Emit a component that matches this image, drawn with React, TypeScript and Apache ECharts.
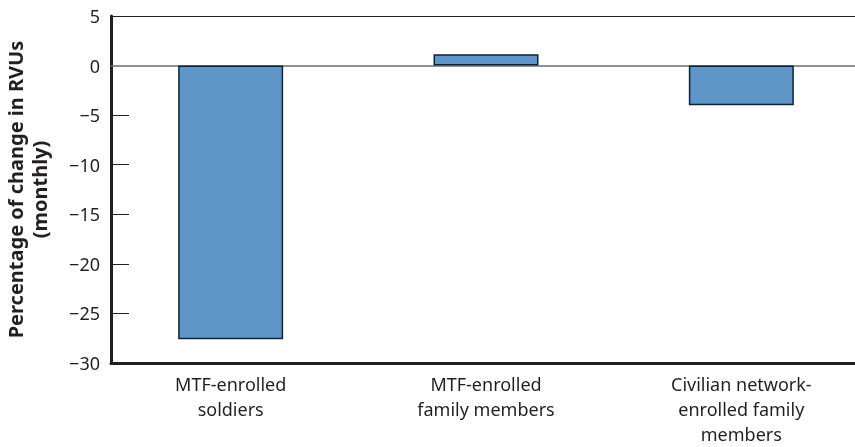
import React, { useEffect, useRef } from "react";
import * as echarts from "echarts";

const categories = [
  "MTF-enrolled\nsoldiers",
  "MTF-enrolled\nfamily members",
  "Civilian network-\nenrolled family\nmembers",
];
const values = [-27.6, 1.15, -4.0];
const yMin = -30;
const yMax = 5;
const yStep = 5;
const tickValues = [-25, -20, -15, -10, -5];

const FONT = "Noto Sans";
const INK = "#231f20";

export default function App() {
  const ref = useRef<HTMLDivElement>(null);
  useEffect(() => {
    if (!ref.current) return;
    const chart = echarts.init(ref.current, null, { renderer: "svg" });
    chart.setOption({
      animation: false,
      textStyle: { fontFamily: FONT },
      grid: [
        { left: 111, right: 0, top: 16, bottom: 84, containLabel: false, outerBoundsMode: "none" },
        { left: 103, width: 766, top: 16, bottom: 84, containLabel: false, outerBoundsMode: "none" },
      ],
      yAxis: [
        {
          gridIndex: 0,
          type: "value",
          min: yMin,
          max: yMax,
          interval: yStep,
          axisLine: { show: true, lineStyle: { color: INK, width: 3 } },
          axisTick: {
            show: true,
            inside: true,
            length: 18,
            customValues: tickValues,
            lineStyle: { color: INK, width: 1 },
          },
          axisLabel: {
            fontSize: 18,
            color: INK,
            margin: 11,
            fontFamily: FONT,
            formatter: (v: number) => String(v).replace("-", "\u2212"),
          },
          splitLine: { show: false },
          name: "Percentage of change in RVUs\n(monthly)",
          nameLocation: "middle",
          nameGap: 60,
          nameTextStyle: {
            fontSize: 20,
            fontWeight: "bold",
            color: INK,
            lineHeight: 24,
            fontFamily: FONT,
          },
        },
        {
          gridIndex: 1,
          type: "value",
          min: yMin,
          max: yMax,
          interval: yStep,
          show: false,
        },
      ],
      xAxis: [
        {
          gridIndex: 0,
          type: "value",
          min: 0,
          max: 1,
          position: "bottom",
          axisLine: { show: true, onZero: false, lineStyle: { color: INK, width: 3 } },
          axisTick: { show: false },
          axisLabel: { show: false },
          splitLine: { show: false },
        },
        {
          gridIndex: 0,
          type: "value",
          min: 0,
          max: 1,
          position: "top",
          axisLine: { show: true, onZero: false, lineStyle: { color: INK, width: 1 } },
          axisTick: { show: false },
          axisLabel: { show: false },
          splitLine: { show: false },
        },
        {
          gridIndex: 0,
          type: "value",
          min: 0,
          max: 1,
          position: "bottom",
          axisLine: { show: true, onZero: true, lineStyle: { color: "#6d6d6d", width: 1.5 } },
          axisTick: { show: false },
          axisLabel: { show: false },
          splitLine: { show: false },
        },
        {
          gridIndex: 1,
          type: "category",
          data: categories,
          position: "bottom",
          axisLine: { show: false, onZero: false },
          axisTick: { show: false },
          axisLabel: {
            interval: 0,
            fontSize: 18,
            lineHeight: 25,
            color: INK,
            margin: 8,
            fontFamily: FONT,
          },
          splitLine: { show: false },
        },
      ],
      series: [
        {
          type: "bar",
          xAxisIndex: 3,
          yAxisIndex: 1,
          data: values,
          barWidth: 105,
          itemStyle: {
            color: "#6095c8",
            borderColor: "#0b2239",
            borderWidth: 1.5,
          },
        },
      ],
    });
    return () => chart.dispose();
  }, []);
  return (
    <div
      ref={ref}
      style={{ position: "fixed", left: 0, top: 0, width: 855, height: 447 }}
    />
  );
}
